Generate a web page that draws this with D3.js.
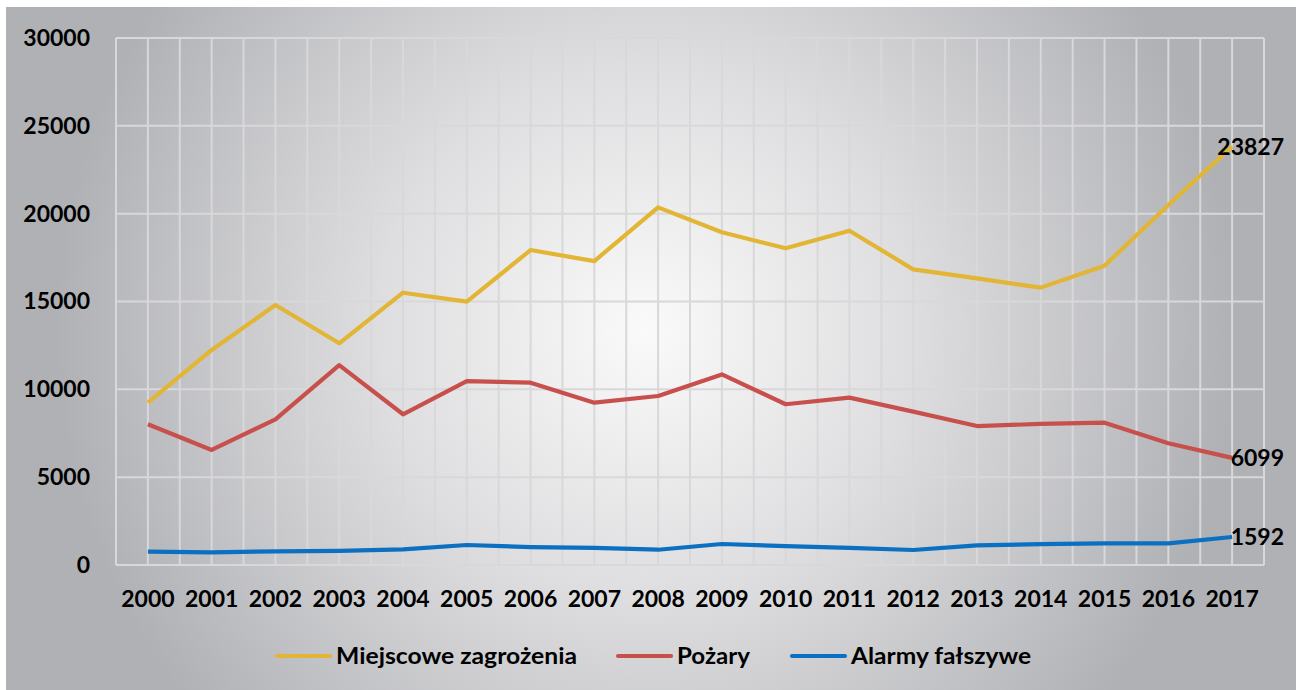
<!DOCTYPE html>
<html>
<head>
<meta charset="utf-8">
<script src="https://cdn.jsdelivr.net/npm/d3@7"></script>
<style>
  html, body { margin: 0; padding: 0; background: #fff; }
  svg text { font-family: Lato, "Open Sans", sans-serif; font-weight: bold; fill: #000; }
</style>
</head>
<body>
<svg id="chart" width="1296" height="690"></svg>
<script>
// data
var years = ["2000","2001","2002","2003","2004","2005","2006","2007","2008",
             "2009","2010","2011","2012","2013","2014","2015","2016","2017"];
var miejscowe = [9240, 12240, 14800, 12620, 15500, 14990, 17930, 17300, 20360,
                 18940, 18030, 19030, 16830, 16320, 15790, 17040, 20490, 23827];
var pozary = [8010, 6550, 8290, 11380, 8580, 10470, 10380, 9240, 9620,
              10850, 9150, 9530, 8730, 7910, 8030, 8100, 6930, 6099];
var alarmy = [760, 720, 780, 800, 890, 1140, 1020, 970, 870,
              1195, 1080, 970, 855, 1120, 1190, 1230, 1230, 1592];
var yTicks = [0, 5000, 10000, 15000, 20000, 25000, 30000];
var seriesNames = ["Miejscowe zagrożenia", "Pożary", "Alarmy fałszywe"];
var seriesColors = ["#E2B534", "#C8504C", "#0B70C2"];

var series = [miejscowe, pozary, alarmy].map(function (v, i) {
    return {name: seriesNames[i], color: seriesColors[i], values: v};
});

var svg = d3.select("#chart");
var W = 1296, H = 690;
var plot = {left: 116, right: 1264, top: 38, bottom: 565};

// background panel with centre glow
var defs = svg.append("defs");
var grad = defs.append("radialGradient")
    .attr("id", "bg")
    .attr("gradientUnits", "userSpaceOnUse")
    .attr("cx", 645).attr("cy", 330).attr("r", 590);
grad.append("stop").attr("offset", "0%").attr("stop-color", "#fafafa");
grad.append("stop").attr("offset", "45%").attr("stop-color", "#dedee0");
grad.append("stop").attr("offset", "100%").attr("stop-color", "#b0b1b5");

svg.append("rect").attr("x", 6).attr("y", 7)
    .attr("width", W - 6).attr("height", H - 7)
    .attr("fill", "url(#bg)");

var x = d3.scaleBand().domain(years).range([plot.left, plot.right]).padding(0);
var xc = function (d) { return x(d) + x.bandwidth() / 2; };
var y = d3.scaleLinear().domain([0, 30000]).range([plot.bottom, plot.top]);

// gridlines
var grid = svg.append("g").attr("stroke", "#d8d8da").attr("stroke-width", 2);
grid.selectAll("line.h").data(yTicks).join("line")
    .attr("x1", plot.left).attr("x2", plot.right)
    .attr("y1", function (d) { return y(d); })
    .attr("y2", function (d) { return y(d); });
var vx = years.map(function (d) { return x(d); }).concat([plot.right])
    .concat(years.map(xc));
grid.selectAll("line.v").data(vx).join("line")
    .attr("x1", function (d) { return d; }).attr("x2", function (d) { return d; })
    .attr("y1", plot.top).attr("y2", plot.bottom);

// axes
var yAxis = svg.append("g")
    .attr("transform", "translate(" + plot.left + ",0)")
    .call(d3.axisLeft(y).tickValues(yTicks).tickSize(0).tickPadding(26).tickFormat(d3.format("d")));
yAxis.select(".domain").remove();
yAxis.selectAll("text").attr("font-size", 23).attr("font-family", null).attr("fill", "#000");

var xAxis = svg.append("g")
    .attr("transform", "translate(0," + plot.bottom + ")")
    .call(d3.axisBottom(x).tickSize(0).tickPadding(26));
xAxis.select(".domain").remove();
xAxis.selectAll("text").attr("font-size", 23).attr("font-family", null).attr("fill", "#000");

// lines
var line = d3.line()
    .x(function (d, i) { return xc(years[i]); })
    .y(function (d) { return y(d); });

svg.append("g").selectAll("path").data(series).join("path")
    .attr("d", function (s) { return line(s.values); })
    .attr("fill", "none")
    .attr("stroke", function (s) { return s.color; })
    .attr("stroke-width", 4.2)
    .attr("stroke-linejoin", "round");

// end labels
var last = years.length - 1;
svg.append("g").selectAll("text").data(series).join("text")
    .attr("x", plot.right + 20)
    .attr("y", function (s) { return y(s.values[last]); })
    .attr("dy", "0.36em")
    .attr("text-anchor", "end")
    .attr("font-size", 23)
    .text(function (s) { return s.values[last]; });

// legend
var legendX = [277, 618, 792];
var legendW = [241, 73, 180];
var legY = 656;
var leg = svg.append("g").selectAll("g").data(series).join("g")
    .attr("transform", function (s, i) { return "translate(" + legendX[i] + "," + legY + ")"; });
leg.append("line")
    .attr("x1", 0).attr("x2", 53)
    .attr("stroke", function (s) { return s.color; })
    .attr("stroke-width", 4.2)
    .attr("stroke-linecap", "round");
leg.append("text")
    .attr("x", 59)
    .attr("dy", "0.36em")
    .attr("font-size", 22)
    .attr("textLength", function (s, i) { return legendW[i]; })
    .attr("lengthAdjust", "spacingAndGlyphs")
    .text(function (s) { return s.name; });
</script>
</body>
</html>
